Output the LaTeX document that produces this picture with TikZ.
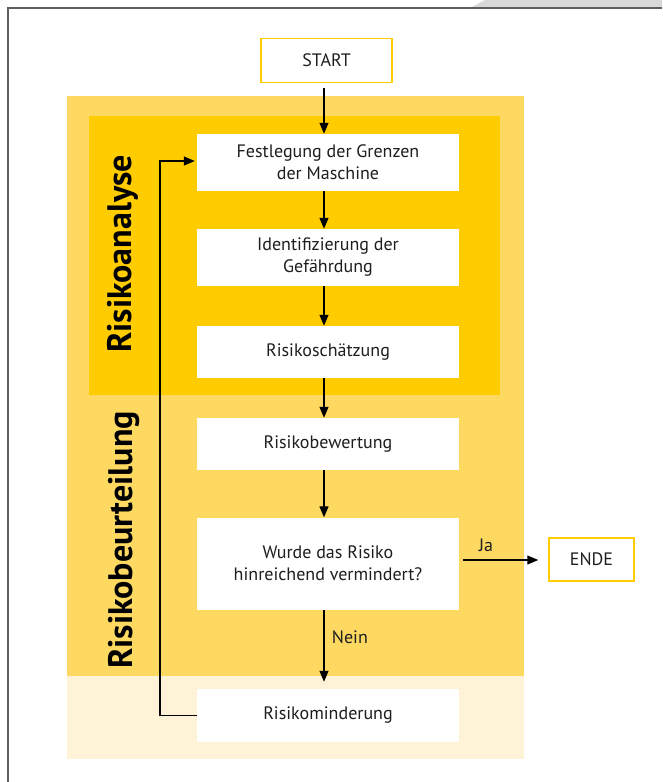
\documentclass[tikz,border=0pt]{standalone}
\usepackage{fontspec}
\setmainfont{PT Sans}
\usetikzlibrary{arrows.meta}
\definecolor{framegray}{HTML}{5E5E5E}
\definecolor{cornergray}{HTML}{D9D9D9}
\definecolor{lightyellow}{HTML}{FED962}
\definecolor{darkyellow}{HTML}{FFCC00}
\definecolor{paleyellow}{HTML}{FFF3D7}
\definecolor{textgray}{HTML}{1E1E1E}
\tikzset{
  procbox/.style={fill=white, minimum width=262pt, align=center, text=textgray, font=\fontsize{18}{22}\selectfont, inner sep=0pt},
  termbox/.style={fill=white, draw=darkyellow, line width=1.5pt, align=center, text=textgray, font=\fontsize{18}{22}\selectfont},
  flow/.style={line width=1.3pt, -{Triangle[length=11pt,width=9pt]}},
  sidelabel/.style={rotate=90, font=\fontsize{34}{34}\selectfont\bfseries, text=black},
  edgelabel/.style={font=\fontsize{18}{20}\selectfont, text=textgray}
}
\begin{document}
\begin{tikzpicture}[x=1pt,y=-1pt]
  \useasboundingbox (0,0) rectangle (662,782);
  % frame and page corner
  \fill[cornergray] (470,8) -- (485,0) -- (662,0) -- (662,8) -- cycle;
  \draw[framegray, line width=1.5pt] (8,782) -- (8,8) -- (662,8);
  % coloured areas
  \fill[lightyellow] (67,96) rectangle (524,676);
  \fill[darkyellow] (89,116) rectangle (500,395);
  \fill[paleyellow] (67,676) rectangle (524,759);
  \node[sidelabel] (analyse) at (123,254) {Risikoanalyse};
  \node[sidelabel] (beurteilung) at (124,540) {Risikobeurteilung};
  % boxes
  \node[termbox, minimum width=131pt, minimum height=44pt] (start) at (326.5,60.5) {START};
  \node[procbox, minimum height=57pt] (grenzen) at (328,162.5) {Festlegung der Grenzen\\der Maschine};
  \node[procbox, minimum height=57pt] (gefahr) at (328,257.5) {Identifizierung der\\Gefährdung};
  \node[procbox, minimum height=52pt] (schaetzung) at (328,352) {Risikoschätzung};
  \node[procbox, minimum height=52pt] (bewertung) at (328,444) {Risikobewertung};
  \node[procbox, minimum height=92pt] (frage) at (328,563.5) {Wurde das Risiko\\hinreichend vermindert?};
  \node[procbox, minimum height=53pt] (minderung) at (328,715.5) {Risikominderung};
  \node[termbox, minimum width=85pt, minimum height=43pt] (ende) at (591.5,559.5) {ENDE};
  % connectors
  \draw[flow, shorten <=5pt] (start.south -| 324,0) -- (grenzen.north -| 324,0);
  \draw[flow] (grenzen.south -| 324,0) -- (gefahr.north -| 324,0);
  \draw[flow] (gefahr.south -| 324,0) -- (schaetzung.north -| 324,0);
  \draw[flow] (schaetzung.south -| 324,0) -- (bewertung.north -| 324,0);
  \draw[flow] (bewertung.south -| 324,0) -- (frage.north -| 324,0);
  \draw[flow, shorten >=7pt] (frage.south -| 324,0) -- node[edgelabel, right=4pt, pos=0.35] (nein) {Nein} (minderung.north -| 324,0);
  \draw[flow, shorten <=4pt, shorten >=10pt] (frage.east |- 0,560) -- node[edgelabel, above=4pt, pos=0.3] (ja) {Ja} (ende.west |- 0,560);
  \draw[flow, shorten >=2pt] (minderung.west) -- (160,715.5) -- (160,161) -- (grenzen.west |- 0,161);
\end{tikzpicture}
\end{document}
